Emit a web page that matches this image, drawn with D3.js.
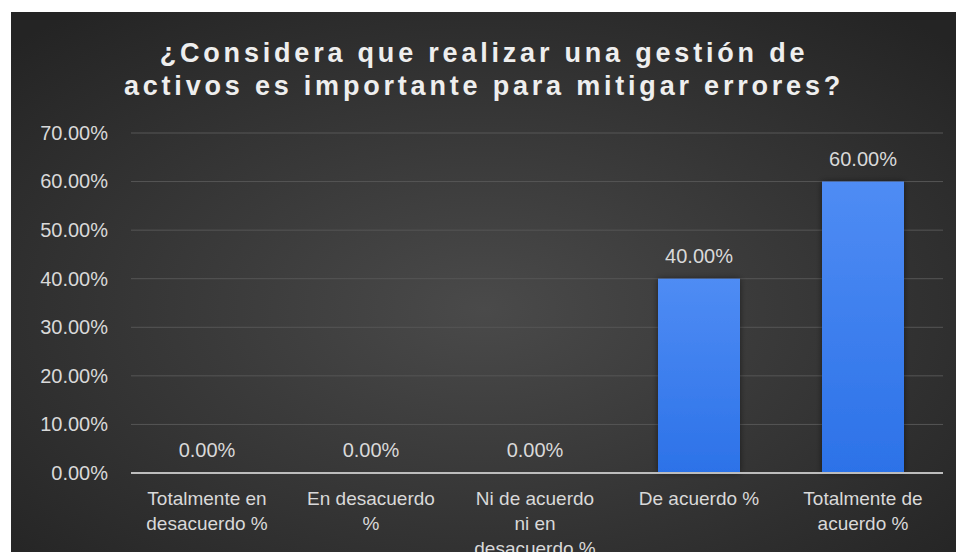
<!DOCTYPE html>
<html>
<head>
<meta charset="utf-8">
<script src="https://cdn.jsdelivr.net/npm/d3@7"></script>
<style>
  html, body { margin: 0; padding: 0; background: #ffffff; }
  svg { display: block; }
  text { font-family: "Liberation Sans", Arial, sans-serif; }
</style>
</head>
<body>
<svg id="chart" width="956" height="552"></svg>
<script>
// Survey answers and their shares
const categories = [
  "Totalmente en desacuerdo %",
  "En desacuerdo %",
  "Ni de acuerdo ni en desacuerdo %",
  "De acuerdo %",
  "Totalmente de acuerdo %"
];
const values = [0, 0, 0, 0.40, 0.60];
const yTicks = [0, 0.1, 0.2, 0.3, 0.4, 0.5, 0.6, 0.7];
const titleLines = [
  "¿Considera que realizar una gestión de",
  "activos es importante para mitigar errores?"
];

const W = 956, H = 552;
const panel = { x: 11, y: 12, w: W - 11, h: H - 12 };
const plot = { left: 125, right: 945, top: 133, bottom: 473 };

const svg = d3.select("#chart");
const defs = svg.append("defs");

// Dark radial backdrop
const bg = defs.append("radialGradient").attr("id", "bgGrad")
  .attr("cx", "50%").attr("cy", "55%").attr("r", "70%");
bg.append("stop").attr("offset", "0%").attr("stop-color", "#4a4a4a");
bg.append("stop").attr("offset", "100%").attr("stop-color", "#242424");

// Bar fill
const barGrad = defs.append("linearGradient").attr("id", "barGrad")
  .attr("x1", 0).attr("y1", 0).attr("x2", 0).attr("y2", 1);
barGrad.append("stop").attr("offset", "0%").attr("stop-color", "#4f8cf4");
barGrad.append("stop").attr("offset", "100%").attr("stop-color", "#2c72e8");

const shadow = defs.append("filter").attr("id", "barShadow")
  .attr("x", "-20%").attr("y", "-10%").attr("width", "140%").attr("height", "120%");
shadow.append("feDropShadow").attr("dx", 0).attr("dy", 0)
  .attr("stdDeviation", 3).attr("flood-color", "#000").attr("flood-opacity", 0.5);

svg.append("rect")
  .attr("x", panel.x).attr("y", panel.y)
  .attr("width", panel.w).attr("height", panel.h)
  .attr("fill", "url(#bgGrad)");

// Title
const title = svg.append("text")
  .attr("text-anchor", "middle")
  .attr("fill", "#eeeeee")
  .attr("font-size", 27)
  .attr("font-weight", "bold")
  .attr("letter-spacing", 3.8);
titleLines.forEach((line, i) => {
  title.append("tspan").attr("x", 484).attr("y", 62 + i * 33).text(line);
});

const x = d3.scaleBand()
  .domain(categories)
  .range([plot.left, plot.right])
  .paddingInner(0.5)
  .paddingOuter(0.25);

const y = d3.scaleLinear()
  .domain([0, 0.7])
  .range([plot.bottom, plot.top]);

// Horizontal gridlines
svg.append("g")
  .selectAll("line")
  .data(yTicks.filter(d => d > 0))
  .join("line")
  .attr("x1", plot.left + 6).attr("x2", plot.right - 2)
  .attr("y1", d => y(d)).attr("y2", d => y(d))
  .attr("stroke", "#565656")
  .attr("stroke-width", 1);

// Y axis labels
const yAxis = svg.append("g")
  .attr("transform", `translate(${plot.left - 17},0)`)
  .call(d3.axisLeft(y).tickValues(yTicks).tickFormat(d3.format(".2%")).tickSize(0).tickPadding(0));
yAxis.select(".domain").remove();
yAxis.selectAll("text")
  .attr("fill", "#d9d9d9")
  .attr("font-size", 20)
  .attr("font-family", "Liberation Sans, Arial, sans-serif");

// Bars
svg.append("g")
  .selectAll("rect")
  .data(values)
  .join("rect")
  .attr("x", (d, i) => x(categories[i]))
  .attr("width", x.bandwidth())
  .attr("y", d => y(d))
  .attr("height", d => y(0) - y(d))
  .attr("fill", "url(#barGrad)")
  .attr("filter", "url(#barShadow)");

// Baseline
svg.append("line")
  .attr("x1", plot.left + 6).attr("x2", plot.right - 2)
  .attr("y1", y(0)).attr("y2", y(0))
  .attr("stroke", "#bdbdbd")
  .attr("stroke-width", 2);

// Value labels
svg.append("g")
  .selectAll("text")
  .data(values)
  .join("text")
  .attr("x", (d, i) => x(categories[i]) + x.bandwidth() / 2)
  .attr("y", d => y(d) - 16)
  .attr("text-anchor", "middle")
  .attr("fill", "#d9d9d9")
  .attr("font-size", 20)
  .text(d => d3.format(".2%")(d));

// Category labels, wrapped to the band
const maxLineWidth = 130;
const catGroup = svg.append("g");
categories.forEach(cat => {
  const t = catGroup.append("text")
    .attr("text-anchor", "middle")
    .attr("fill", "#d9d9d9")
    .attr("font-size", 19);
  const cx = x(cat) + x.bandwidth() / 2;
  const words = cat.split(" ");
  let lineNo = 0;
  let line = [];
  let tspan = t.append("tspan").attr("x", cx).attr("y", 505);
  words.forEach(w => {
    line.push(w);
    tspan.text(line.join(" "));
    if (tspan.node().getComputedTextLength() > maxLineWidth && line.length > 1) {
      line.pop();
      tspan.text(line.join(" "));
      line = [w];
      lineNo += 1;
      tspan = t.append("tspan").attr("x", cx).attr("y", 505 + lineNo * 25).text(w);
    }
  });
});
</script>
</body>
</html>
